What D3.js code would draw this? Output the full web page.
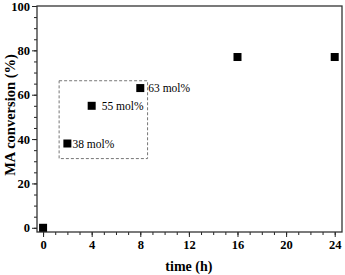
<!DOCTYPE html>
<html>
<head>
<meta charset="UTF-8">
<script src="https://d3js.org/d3.v7.min.js"></script>
<style>
  body { margin: 0; background: #fff; }
</style>
</head>
<body>
<svg id="chart"></svg>
<script>
// data
const times = [0, 2, 4, 8, 16, 24];
const conversion = [0, 38, 55, 63, 77, 77];
const pointLabels = ["", "38 mol%", "55 mol%", "63 mol%", "", ""];
const xTicks = [0, 4, 8, 12, 16, 20, 24];
const yTicks = [0, 20, 40, 60, 80, 100];
// dashed box around the early points (data units: x0, x1, y0, y1)
const boxExtent = [1.32, 8.6, 31.2, 66.3];

const serif = "'Liberation Serif', 'Times New Roman', serif";
const width = 345, height = 275;
const margin = {top: 6, right: 3, bottom: 43, left: 37};
const innerW = width - margin.left - margin.right;
const innerH = height - margin.top - margin.bottom;

const svg = d3.select("#chart")
    .attr("width", width)
    .attr("height", height);
const g = svg.append("g")
    .attr("transform", "translate(" + margin.left + "," + margin.top + ")");

const x = d3.scaleLinear().domain([-0.5, 24.6]).range([0, innerW]);
const y = d3.scaleLinear().domain([-1.9, 100]).range([innerH, 0]);

// minor ticks first
g.append("g")
    .attr("transform", "translate(0," + innerH + ")")
    .call(d3.axisBottom(x).tickValues(d3.range(0, 25, 1)).tickSize(3).tickFormat(""))
    .call(a => a.select(".domain").remove());
g.append("g")
    .call(d3.axisLeft(y).tickValues(d3.range(0, 101, 5)).tickSize(3).tickFormat(""))
    .call(a => a.select(".domain").remove());

// major ticks with labels
g.append("g")
    .attr("transform", "translate(0," + innerH + ")")
    .call(d3.axisBottom(x).tickValues(xTicks).tickSize(5).tickPadding(3))
    .call(a => a.select(".domain").remove());
g.append("g")
    .call(d3.axisLeft(y).tickValues(yTicks).tickSize(5).tickPadding(2))
    .call(a => a.select(".domain").remove());
g.selectAll(".tick line").attr("stroke", "#222");
g.selectAll(".tick text")
    .style("font-family", serif)
    .style("font-weight", "bold")
    .style("font-size", "12.5px")
    .attr("fill", "#000");

// frame
g.append("rect")
    .attr("width", innerW)
    .attr("height", innerH)
    .attr("fill", "none")
    .attr("stroke", "#333")
    .attr("stroke-width", 1.3);

// dashed box
g.append("rect")
    .attr("x", x(boxExtent[0]))
    .attr("y", y(boxExtent[3]))
    .attr("width", x(boxExtent[1]) - x(boxExtent[0]))
    .attr("height", y(boxExtent[2]) - y(boxExtent[3]))
    .attr("fill", "none")
    .attr("stroke", "#777")
    .attr("stroke-width", 1)
    .attr("stroke-dasharray", "3,2");

// points
const sz = 8;
const pts = times.map((t, i) => ({t: t, v: conversion[i], label: pointLabels[i]}));
g.selectAll(".pt")
    .data(pts)
    .enter().append("rect")
    .attr("class", "pt")
    .attr("x", d => x(d.t) - sz / 2)
    .attr("y", d => y(d.v) - sz / 2)
    .attr("width", sz)
    .attr("height", sz)
    .attr("fill", "#000");

// point labels
const labelDx = {"38 mol%": 5, "55 mol%": 10, "63 mol%": 8};
g.selectAll(".label")
    .data(pts.filter(d => d.label))
    .enter().append("text")
    .attr("class", "label")
    .attr("x", d => x(d.t) + labelDx[d.label])
    .attr("y", d => y(d.v) + 4)
    .style("font-family", serif)
    .style("font-size", "11.5px")
    .text(d => d.label);

// axis titles
svg.append("text")
    .attr("text-anchor", "middle")
    .attr("x", margin.left + x(12))
    .attr("y", 271)
    .style("font-family", serif)
    .style("font-weight", "bold")
    .style("font-size", "14px")
    .text("time (h)");
svg.append("text")
    .attr("text-anchor", "middle")
    .attr("transform", "translate(10,115) rotate(-90)")
    .attr("dy", "0.35em")
    .style("font-family", serif)
    .style("font-weight", "bold")
    .style("font-size", "14.5px")
    .text("MA conversion (%)");
</script>
</body>
</html>
